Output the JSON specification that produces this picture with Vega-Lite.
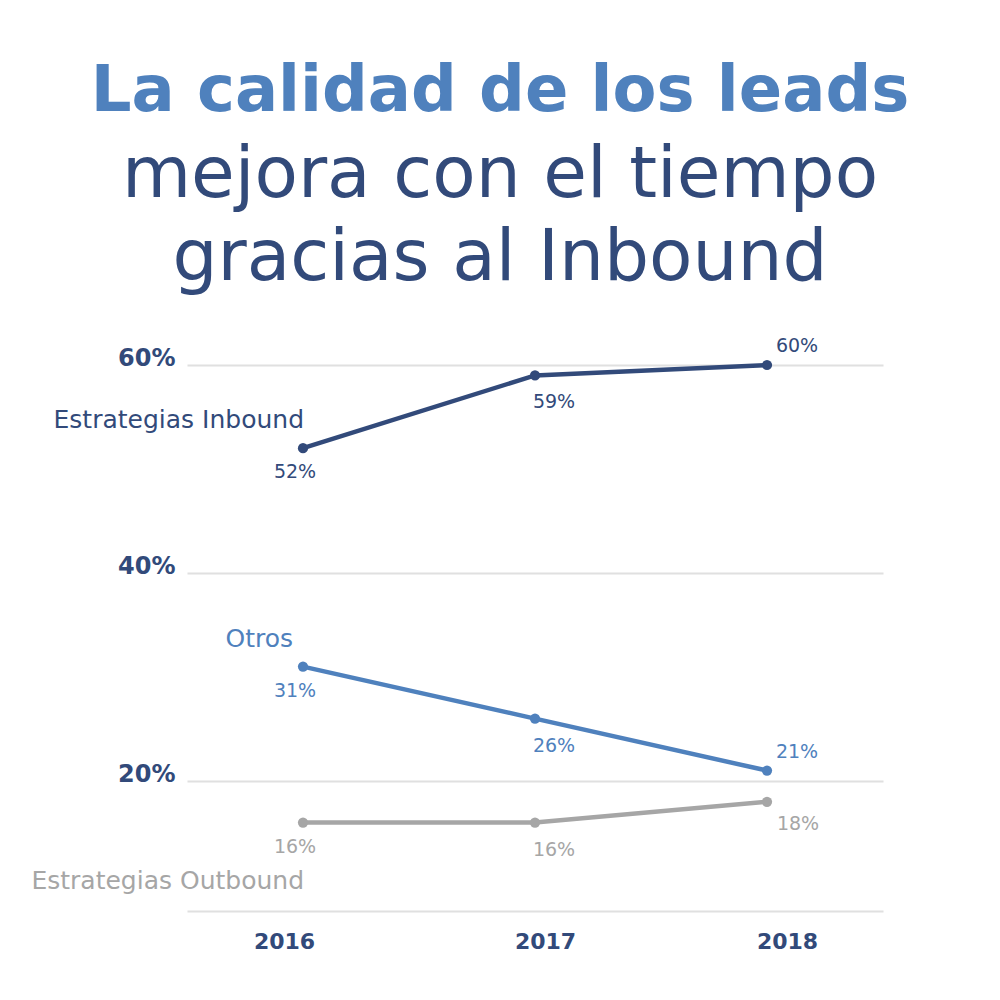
{
  "$schema": "https://vega.github.io/schema/vega-lite/v6.json",
  "width": 696,
  "height": 546,
  "autosize": "none",
  "padding": {"left": 187, "top": 365, "right": 117, "bottom": 89},
  "background": "white",
  "config": {"view": {"stroke": null}, "font": "DejaVu Sans"},
  "title": {
    "text": "La calidad de los leads",
    "subtitle": ["mejora con el tiempo", "gracias al Inbound"],
    "anchor": "middle",
    "dx": -35,
    "font": "DejaVu Sans",
    "fontSize": 64,
    "fontWeight": "bold",
    "color": "#4f81bd",
    "subtitleFont": "DejaVu Sans",
    "subtitleFontSize": 71,
    "subtitleFontWeight": "normal",
    "subtitleColor": "#324a7a",
    "subtitleLineHeight": 83,
    "subtitlePadding": 17,
    "offset": 43
  },
  "data": {
    "values": [
      {"series": "Estrategias Inbound", "year": 2016, "value": 52, "label": "52%"},
      {"series": "Estrategias Inbound", "year": 2017, "value": 59, "label": "59%"},
      {"series": "Estrategias Inbound", "year": 2018, "value": 60, "label": "60%"},
      {"series": "Otros", "year": 2016, "value": 31, "label": "31%"},
      {"series": "Otros", "year": 2017, "value": 26, "label": "26%"},
      {"series": "Otros", "year": 2018, "value": 21, "label": "21%"},
      {"series": "Estrategias Outbound", "year": 2016, "value": 16, "label": "16%"},
      {"series": "Estrategias Outbound", "year": 2017, "value": 16, "label": "16%"},
      {"series": "Estrategias Outbound", "year": 2018, "value": 18, "label": "18%"}
    ]
  },
  "encoding": {
    "x": {
      "field": "year",
      "type": "ordinal",
      "scale": {"type": "point", "padding": 0.5},
      "axis": {
        "title": null,
        "labelAngle": 0,
        "ticks": false,
        "grid": false,
        "domain": true,
        "domainColor": "#e0e0e0",
        "domainWidth": 2,
        "labelFont": "DejaVu Sans",
        "labelFontSize": 22,
        "labelFontWeight": "bold",
        "labelColor": "#324a7a",
        "labelPadding": 20,
        "labelBaseline": "top",
        "labelOffset": {
          "condition": [
            {"test": "datum.value == 2016", "value": -19},
            {"test": "datum.value == 2017", "value": 10}
          ],
          "value": 20
        }
      }
    },
    "y": {
      "field": "value",
      "type": "quantitative",
      "scale": {"domain": [7.5, 60], "nice": false, "zero": false},
      "axis": {
        "title": null,
        "values": [20, 40, 60],
        "labelExpr": "datum.value + '%'",
        "ticks": false,
        "domain": false,
        "grid": true,
        "gridColor": "#e0e0e0",
        "gridWidth": 2,
        "labelFont": "DejaVu Sans",
        "labelFontSize": 24,
        "labelFontWeight": "bold",
        "labelColor": "#324a7a",
        "labelPadding": 12,
        "labelBaseline": "alphabetic"
      }
    },
    "color": {
      "field": "series",
      "type": "nominal",
      "scale": {
        "domain": ["Estrategias Inbound", "Otros", "Estrategias Outbound"],
        "range": ["#324a7a", "#4f81bd", "#a6a6a6"]
      },
      "legend": null
    }
  },
  "layer": [
    {"mark": {"type": "line", "strokeWidth": 4.5}},
    {"mark": {"type": "point", "filled": true, "size": 105, "opacity": 1}},
    {
      "transform": [{"filter": "datum.year == 2016"}],
      "mark": {"type": "text", "fontSize": 19, "align": "center", "baseline": "alphabetic", "dx": -8, "dy": 30},
      "encoding": {"text": {"field": "label"}}
    },
    {
      "transform": [{"filter": "datum.year == 2017"}],
      "mark": {"type": "text", "fontSize": 19, "align": "center", "baseline": "alphabetic", "dx": 19, "dy": 33},
      "encoding": {"text": {"field": "label"}}
    },
    {
      "transform": [{"filter": "datum.year == 2018 && datum.series != 'Estrategias Outbound'"}],
      "mark": {"type": "text", "fontSize": 19, "align": "center", "baseline": "alphabetic", "dx": 30, "dy": -13},
      "encoding": {"text": {"field": "label"}}
    },
    {
      "transform": [{"filter": "datum.year == 2018 && datum.series == 'Estrategias Outbound'"}],
      "mark": {"type": "text", "fontSize": 19, "align": "center", "baseline": "alphabetic", "dx": 31, "dy": 28},
      "encoding": {"text": {"field": "label"}}
    },
    {
      "transform": [{"filter": "datum.year == 2016 && datum.series == 'Estrategias Inbound'"}],
      "mark": {"type": "text", "fontSize": 25, "align": "right", "baseline": "alphabetic", "dx": 1, "dy": -20},
      "encoding": {"text": {"field": "series"}}
    },
    {
      "transform": [{"filter": "datum.year == 2016 && datum.series == 'Otros'"}],
      "mark": {"type": "text", "fontSize": 25, "align": "right", "baseline": "alphabetic", "dx": -10, "dy": -20},
      "encoding": {"text": {"field": "series"}}
    },
    {
      "transform": [{"filter": "datum.year == 2016 && datum.series == 'Estrategias Outbound'"}],
      "mark": {"type": "text", "fontSize": 25, "align": "right", "baseline": "alphabetic", "dx": 1, "dy": 66},
      "encoding": {"text": {"field": "series"}}
    }
  ]
}
